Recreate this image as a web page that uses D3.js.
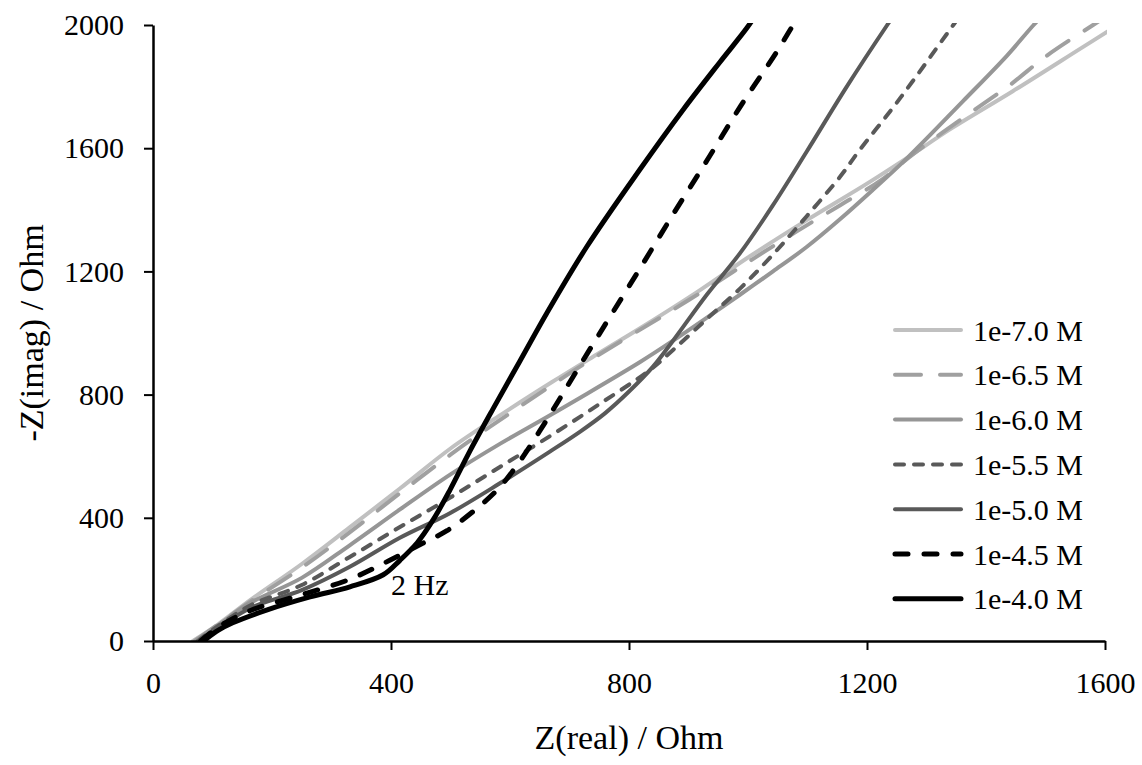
<!DOCTYPE html>
<html>
<head>
<meta charset="utf-8">
<script src="https://cdn.jsdelivr.net/npm/d3@7"></script>
<style>
  body { margin: 0; background: #fff; }
  text { font-family: "Liberation Serif", "Times New Roman", serif; fill: #000; }
</style>
</head>
<body>
<div id="chart"></div>
<script>
// datos: [Z(real), -Z(imag)] en Ohm
var c70 = [[67,0],[110,55],[165,135],[250,250],[330,368],[415,495],[500,625],[585,735],[670,840],[750,935],[835,1035],[920,1140],[1000,1245],[1100,1368],[1200,1485],[1270,1572],[1340,1662],[1445,1785],[1560,1925],[1620,1998]];
var c65 = [[70,0],[110,54],[165,130],[250,238],[330,352],[415,480],[500,605],[566,695],[639,790],[713,885],[788,975],[861,1060],[936,1150],[1008,1240],[1082,1330],[1155,1415],[1225,1498],[1277,1580],[1368,1707],[1440,1805],[1502,1900],[1580,2000],[1620,2050]];
var c60 = [[72,0],[110,52],[165,125],[250,205],[330,310],[415,427],[500,541],[583,640],[660,725],[718,790],[818,905],[874,975],[931,1050],[987,1125],[1042,1200],[1099,1280],[1155,1370],[1210,1465],[1267,1567],[1361,1752],[1435,1900],[1480,2000],[1500,2040]];
var c55 = [[75,0],[112,52],[165,117],[250,182],[330,272],[415,370],[499,465],[583,565],[667,665],[751,770],[835,880],[874,945],[931,1046],[987,1145],[1042,1255],[1099,1380],[1155,1508],[1188,1595],[1239,1720],[1277,1818],[1345,2000],[1360,2040]];
var c50 = [[78,0],[115,50],[165,108],[250,165],[330,240],[415,335],[499,415],[583,512],[667,615],[718,680],[760,740],[800,810],[840,890],[874,975],[931,1125],[987,1260],[1042,1415],[1099,1590],[1166,1800],[1234,2000],[1250,2045]];
var c45 = [[80,0],[112,48],[165,100],[250,150],[330,200],[398,262],[454,318],[494,358],[544,430],[583,500],[617,585],[650,682],[679,772],[706,858],[739,962],[773,1068],[818,1208],[874,1385],[931,1560],[987,1735],[1049,1915],[1076,2000],[1090,2040]];
var c40 = [[85,0],[110,35],[134,59],[192,101],[264,143],[331,176],[387,215],[415,262],[444,319],[471,394],[499,490],[533,618],[571,752],[617,910],[662,1065],[729,1280],[818,1530],[891,1725],[953,1880],[998,1990],[1012,2030]];

var etiquetas = ["1e-7.0 M", "1e-6.5 M", "1e-6.0 M", "1e-5.5 M", "1e-5.0 M", "1e-4.5 M", "1e-4.0 M"];
var xTicks = [0, 400, 800, 1200, 1600];
var yTicks = [0, 400, 800, 1200, 1600, 2000];

// estilo de cada serie
var series = [
  {datos: c70, color: "#c0c0c0", ancho: 4, dash: null},
  {datos: c65, color: "#a0a0a0", ancho: 4, dash: "26,19"},
  {datos: c60, color: "#969696", ancho: 4, dash: null},
  {datos: c55, color: "#595959", ancho: 4, dash: "9,10"},
  {datos: c50, color: "#595959", ancho: 4, dash: null},
  {datos: c45, color: "#000000", ancho: 5, dash: "13,16"},
  {datos: c40, color: "#000000", ancho: 5, dash: null}
];

var margin = {top: 25, right: 37, bottom: 124, left: 153},
    width = 1142 - margin.left - margin.right,
    height = 765 - margin.top - margin.bottom;

var svg = d3.select("#chart")
  .append("svg")
    .attr("width", 1142)
    .attr("height", 765)
  .append("g")
    .attr("transform", "translate(" + margin.left + "," + margin.top + ")");

var x = d3.scaleLinear().domain([0, 1600]).range([0, width]);
var y = d3.scaleLinear().domain([0, 2000]).range([height, 0]);

svg.append("defs").append("clipPath")
    .attr("id", "clip")
  .append("rect")
    .attr("x", 0).attr("y", -2)
    .attr("width", width + 2)
    .attr("height", height + 2);

var linea = d3.line()
  .x(function(d) { return x(d[0]); })
  .y(function(d) { return y(d[1]); })
  .curve(d3.curveCatmullRom.alpha(0.5));

var curvas = svg.append("g").attr("clip-path", "url(#clip)");
series.forEach(function(s) {
  curvas.append("path")
    .datum(s.datos)
    .attr("fill", "none")
    .attr("stroke", s.color)
    .attr("stroke-width", s.ancho)
    .attr("stroke-linecap", "round")
    .attr("stroke-linejoin", "round")
    .attr("stroke-dasharray", s.dash)
    .attr("d", linea);
});

// ejes
var xAxis = svg.append("g")
  .attr("transform", "translate(0," + height + ")")
  .call(d3.axisBottom(x).tickValues(xTicks).tickFormat(d3.format("d")).tickSize(9).tickPadding(22).tickSizeOuter(0));
var yAxis = svg.append("g")
  .call(d3.axisLeft(y).tickValues(yTicks).tickFormat(d3.format("d")).tickSize(9).tickPadding(20).tickSizeOuter(0));

[xAxis, yAxis].forEach(function(a) {
  a.select(".domain").attr("stroke", "#000").attr("stroke-width", 2.5);
  a.selectAll(".tick line").attr("stroke", "#000").attr("stroke-width", 2);
  a.selectAll(".tick text")
    .style("font-family", "'Liberation Serif', 'Times New Roman', serif")
    .style("font-size", "30px")
    .attr("fill", "#000");
});

// anotacion
svg.append("text")
  .attr("x", x(400))
  .attr("y", y(150))
  .style("font-size", "30px")
  .text("2 Hz");

// leyenda
var leyenda = svg.append("g")
  .attr("transform", "translate(" + (893 - margin.left) + "," + (330 - margin.top) + ")");
series.forEach(function(s, i) {
  var g = leyenda.append("g").attr("transform", "translate(0," + (i * 44.8) + ")");
  g.append("line")
    .attr("x1", 2).attr("x2", 68)
    .attr("y1", 0).attr("y2", 0)
    .attr("stroke", s.color)
    .attr("stroke-width", s.ancho)
    .attr("stroke-linecap", "round")
    .attr("stroke-dasharray", s.dash);
  g.append("text")
    .attr("x", 80)
    .attr("y", 0)
    .attr("dy", "0.35em")
    .style("font-size", "30px")
    .text(etiquetas[i]);
});

// titulos de los ejes
svg.append("text")
  .attr("x", width / 2)
  .attr("y", height + 108)
  .style("text-anchor", "middle")
  .style("font-size", "34px")
  .text("Z(real) / Ohm");

svg.append("text")
  .attr("transform", "rotate(-90)")
  .attr("x", -height / 2)
  .attr("y", -110)
  .style("text-anchor", "middle")
  .style("font-size", "34px")
  .text("-Z(imag) / Ohm");
</script>
</body>
</html>
